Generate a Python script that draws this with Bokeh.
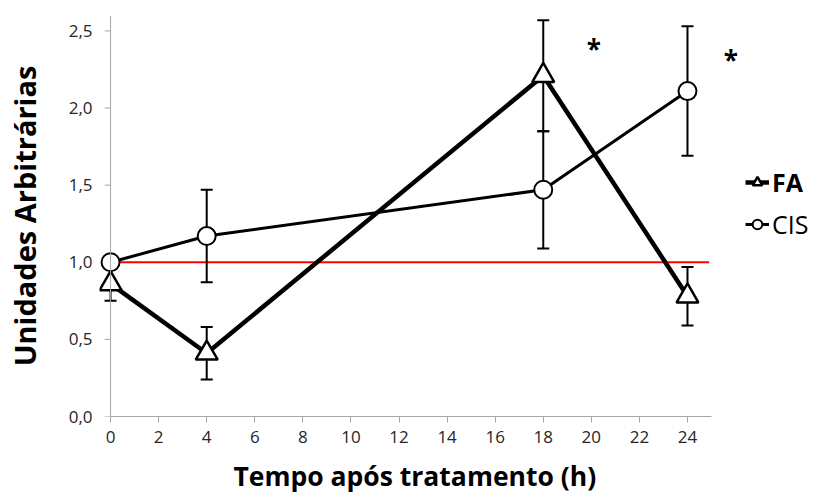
from bokeh.plotting import figure
from bokeh.models import Range1d, FixedTicker, Legend, LegendItem, Span, Title
from bokeh.core.properties import value
from bokeh.embed import file_html
from bokeh.resources import INLINE

hours = [0, 4, 18, 24]
fa_mean = [0.86, 0.41, 2.21, 0.78]
fa_err = [0.11, 0.17, 0.36, 0.19]
cis_mean = [1.0, 1.17, 1.47, 2.11]
cis_err = [0.0, 0.30, 0.38, 0.42]
ref_level = 1.0
ref_x = [0, 24.9]
x_ticks = list(range(0, 25, 2))
y_ticks = [0, 0.5, 1.0, 1.5, 2.0, 2.5]
y_tick_labels = ["0,0", "0,5", "1,0", "1,5", "2,0", "2,5"]
star_x = [20.1, 25.8]
star_y = [2.38, 2.31]
star_text = ["*", "*"]

FONT = "Open Sans"
AXIS_GREY = "#a6a6a6"
TICK_LEN = 0.25  # y tick length in x data units (~6px)

p = figure(width=824, height=504, output_backend="svg", toolbar_location=None,
           x_range=Range1d(-0.46, 29.7), y_range=Range1d(0, 2.6),
           min_border_left=99, min_border_right=0, min_border_top=15, min_border_bottom=88)
p.outline_line_color = None
p.grid.visible = False

for ax in (p.xaxis[0], p.yaxis[0]):
    ax.major_label_text_font = FONT
    ax.major_label_text_font_size = "17px"
    ax.major_label_text_color = "#262626"
    ax.axis_label_text_font = FONT
    ax.axis_label_text_font_style = "bold"
    ax.axis_label_text_color = "black"
    ax.minor_tick_line_color = None

xa = p.xaxis[0]
xa.axis_line_color = AXIS_GREY
xa.major_tick_line_color = AXIS_GREY
xa.major_tick_out = 6
xa.major_tick_in = 0
xa.ticker = FixedTicker(ticks=x_ticks)
xa.bounds = (0, 25)
xa.major_label_standoff = 8

p.add_layout(Title(text="Tempo após tratamento (h)", align="left", offset=134, standoff=21,
                   text_font=FONT, text_font_style="bold", text_font_size="26.5px",
                   text_color="black", text_line_height=0.9), "below")

ya = p.yaxis[0]
ya.axis_line_color = None
ya.major_tick_line_color = None
ya.major_tick_out = 0
ya.major_tick_in = 0
ya.ticker = FixedTicker(ticks=y_ticks)
ya.major_label_overrides = {t: l for t, l in zip(y_ticks, y_tick_labels)}
ya.axis_label = "Unidades Arbitrárias"
ya.axis_label_text_font_size = "29px"
ya.major_label_standoff = 7
ya.axis_label_standoff = 22

# y axis line at x = 0 and its outward ticks
p.add_layout(Span(location=0, dimension="height", line_color=AXIS_GREY, line_width=1))
p.segment(x0=[-TICK_LEN] * len(y_ticks), y0=y_ticks, x1=[0] * len(y_ticks), y1=y_ticks,
          line_color=AXIS_GREY, line_width=1)

fa_lo = [m - e for m, e in zip(fa_mean, fa_err)]
fa_hi = [m + e for m, e in zip(fa_mean, fa_err)]
cis_lo = [m - e for m, e in zip(cis_mean, cis_err)]
cis_hi = [m + e for m, e in zip(cis_mean, cis_err)]

# reference level
p.line(ref_x, [ref_level] * len(ref_x), line_color="red", line_width=2)

# error bars
for lo, hi in ((fa_lo, fa_hi), (cis_lo, cis_hi)):
    p.segment(x0=hours, y0=lo, x1=hours, y1=hi, line_color="black", line_width=2)
    p.scatter(hours, lo, marker="dash", size=12, line_color="black", line_width=2)
    p.scatter(hours, hi, marker="dash", size=12, line_color="black", line_width=2)

cis_line = p.line(hours, cis_mean, line_color="black", line_width=3)
fa_line = p.line(hours, fa_mean, line_color="black", line_width=4.5)
cis_mark = p.scatter(hours, cis_mean, marker="circle", size=18, fill_color="white",
                     line_color="black", line_width=2)
fa_mark = p.scatter(hours, fa_mean, marker="triangle", size=22, fill_color="white",
                    line_color="black", line_width=2.5)

p.text(star_x, star_y, text=star_text, text_font=value(FONT), text_font_style="bold",
       text_font_size="26px", text_align="center", text_baseline="middle", text_color="black")

leg_fa = Legend(items=[LegendItem(label="FA", renderers=[fa_line, fa_mark])],
                location=(646, 217), label_text_font=FONT, label_text_font_style="bold",
                label_text_font_size="25px", label_text_color="black",
                background_fill_alpha=0, border_line_color=None,
                padding=0, margin=0, glyph_width=24, glyph_height=24, label_standoff=3)
leg_cis = Legend(items=[LegendItem(label="CIS", renderers=[cis_line, cis_mark])],
                 location=(646, 175), label_text_font=FONT,
                 label_text_font_size="25px", label_text_color="black",
                 background_fill_alpha=0, border_line_color=None,
                 padding=0, margin=0, glyph_width=24, glyph_height=24, label_standoff=3)
p.add_layout(leg_fa)
p.add_layout(leg_cis)

open("out.html", "w").write(file_html(p, INLINE))
